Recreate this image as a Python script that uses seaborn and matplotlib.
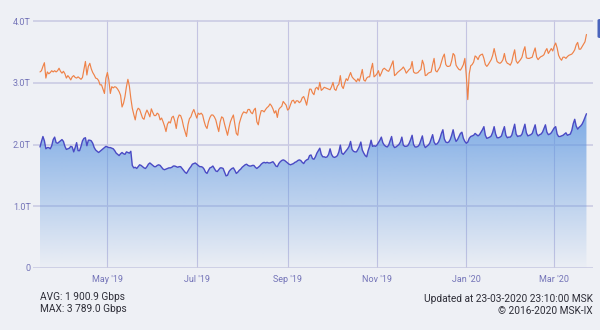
import numpy as np
import pandas as pd
import matplotlib
matplotlib.use("Agg")
import matplotlib.pyplot as plt
import matplotlib.dates as mdates
from matplotlib.patches import FancyBboxPatch
from matplotlib.ticker import FixedLocator, FixedFormatter
import seaborn as sns

# Daily traffic, Tbps, starting 2019-03-16
start_date = "2019-03-16"

avg_tbps = [
    1.96, 2.05, 2.13, 2.06, 1.93, 1.95, 1.95,
    1.93, 1.98, 2.08, 2.12, 2.03, 2.02, 2.04,
    2.06, 2.08, 2.05, 1.97, 1.92, 1.93, 1.94,
    1.97, 1.96, 1.88, 1.95, 2.03, 1.90, 1.90,
    1.97, 2.06, 2.10, 2.11, 1.98, 2.07, 2.07,
    2.06, 2.02, 1.95, 1.91, 1.89, 1.87, 1.89,
    1.91, 1.93, 1.95, 1.97, 1.96, 1.95, 1.95,
    1.94, 1.93, 1.90, 1.86, 1.84, 1.82, 1.85,
    1.87, 1.85, 1.84, 1.88, 1.87, 1.86, 1.89,
    1.66, 1.62, 1.63, 1.61, 1.64, 1.67, 1.66,
    1.64, 1.62, 1.61, 1.64, 1.68, 1.70, 1.68,
    1.66, 1.64, 1.64, 1.66, 1.67, 1.66, 1.63,
    1.60, 1.59, 1.60, 1.61, 1.62, 1.62, 1.63,
    1.65, 1.65, 1.64, 1.63, 1.64, 1.64, 1.61,
    1.58, 1.55, 1.53, 1.57, 1.61, 1.64, 1.68,
    1.69, 1.70, 1.68, 1.66, 1.64, 1.64, 1.63,
    1.60, 1.55, 1.53, 1.58, 1.62, 1.63, 1.65,
    1.61, 1.57, 1.56, 1.59, 1.62, 1.62, 1.61,
    1.55, 1.49, 1.50, 1.56, 1.59, 1.61, 1.62,
    1.58, 1.53, 1.55, 1.58, 1.60, 1.63, 1.65,
    1.67, 1.68, 1.66, 1.65, 1.65, 1.66, 1.66,
    1.63, 1.61, 1.63, 1.65, 1.68, 1.70, 1.71,
    1.70, 1.71, 1.70, 1.70, 1.71, 1.72, 1.69,
    1.65, 1.64, 1.69, 1.72, 1.74, 1.75, 1.74,
    1.72, 1.70, 1.68, 1.67, 1.68, 1.69, 1.71,
    1.72, 1.74, 1.75, 1.74, 1.71, 1.69, 1.73,
    1.75, 1.76, 1.82, 1.83, 1.77, 1.76, 1.80,
    1.86, 1.90, 1.94, 1.84, 1.80, 1.80, 1.79,
    1.80, 1.84, 1.93, 1.84, 1.80, 1.79, 1.80,
    1.82, 1.88, 1.99, 1.86, 1.84, 1.87, 1.90,
    1.93, 1.97, 2.05, 1.92, 1.89, 1.88, 1.88,
    1.92, 1.97, 2.04, 1.91, 1.86, 1.82, 1.80,
    1.90, 1.97, 2.07, 1.97, 1.98, 1.97, 1.99,
    2.03, 2.07, 2.12, 2.03, 1.99, 1.97, 1.96,
    1.99, 2.06, 2.13, 1.99, 1.95, 1.96, 1.98,
    2.00, 2.04, 2.12, 1.99, 1.97, 1.97, 1.98,
    2.02, 2.08, 2.15, 2.00, 1.96, 1.96, 1.97,
    2.00, 2.07, 2.14, 2.00, 1.95, 1.97, 1.99,
    2.02, 2.09, 2.16, 2.04, 2.00, 2.01, 2.04,
    2.10, 2.18, 2.24, 2.09, 2.04, 2.03, 2.04,
    2.08, 2.15, 2.24, 2.12, 2.05, 2.08, 2.13,
    2.18, 2.20, 2.10, 2.05, 2.02, 2.04, 2.10,
    2.13, 2.14, 2.15, 2.18, 2.16, 2.14, 2.16,
    2.20, 2.24, 2.29, 2.15, 2.10, 2.11, 2.12,
    2.14, 2.20, 2.29, 2.17, 2.11, 2.11, 2.12,
    2.14, 2.22, 2.29, 2.15, 2.11, 2.12, 2.12,
    2.15, 2.24, 2.33, 2.17, 2.13, 2.14, 2.14,
    2.17, 2.25, 2.33, 2.19, 2.14, 2.15, 2.16,
    2.18, 2.25, 2.32, 2.18, 2.14, 2.16, 2.17,
    2.20, 2.26, 2.32, 2.20, 2.16, 2.17, 2.19,
    2.23, 2.27, 2.29, 2.17, 2.13, 2.13, 2.14,
    2.15, 2.17, 2.19, 2.15, 2.16, 2.17, 2.23,
    2.34, 2.41, 2.30, 2.25, 2.28, 2.30, 2.33,
    2.38, 2.44, 2.50,
]

max_tbps = [
    3.18, 3.20, 3.27, 3.33, 3.08, 3.18, 3.15,
    3.17, 3.20, 3.18, 3.20, 3.18, 3.20, 3.24,
    3.19, 3.16, 3.19, 3.15, 3.08, 3.12, 3.09,
    3.05, 3.10, 3.12, 3.09, 3.08, 3.10, 3.08,
    3.06, 3.09, 3.22, 3.35, 3.13, 3.27, 3.32,
    3.23, 3.17, 3.13, 3.08, 3.07, 3.04, 2.97,
    2.97, 2.90, 2.83, 3.08, 3.17, 3.05, 2.83,
    2.94, 2.92, 2.94, 2.93, 2.90, 2.86, 2.80,
    2.61, 2.67, 2.78, 2.94, 3.06, 2.95, 2.75,
    2.59, 2.49, 2.40, 2.54, 2.59, 2.57, 2.50,
    2.43, 2.41, 2.50, 2.56, 2.51, 2.45, 2.58,
    2.52, 2.47, 2.47, 2.51, 2.49, 2.40, 2.43,
    2.37, 2.30, 2.21, 2.33, 2.37, 2.35, 2.44,
    2.46, 2.38, 2.26, 2.42, 2.48, 2.47, 2.40,
    2.29, 2.21, 2.13, 2.32, 2.42, 2.45, 2.52,
    2.57, 2.50, 2.43, 2.51, 2.49, 2.51, 2.48,
    2.38, 2.30, 2.26, 2.37, 2.44, 2.48, 2.48,
    2.45, 2.40, 2.30, 2.21, 2.37, 2.45, 2.43,
    2.33, 2.24, 2.15, 2.27, 2.37, 2.43, 2.48,
    2.33, 2.18, 2.15, 2.34, 2.42, 2.49, 2.53,
    2.52, 2.51, 2.57, 2.57, 2.52, 2.50, 2.56,
    2.59, 2.37, 2.32, 2.46, 2.55, 2.55, 2.53,
    2.57, 2.60, 2.62, 2.66, 2.63, 2.58, 2.51,
    2.55, 2.44, 2.57, 2.60, 2.62, 2.70, 2.67,
    2.64, 2.56, 2.58, 2.65, 2.71, 2.72, 2.67,
    2.71, 2.71, 2.68, 2.70, 2.76, 2.78, 2.72,
    2.64, 2.77, 2.90, 2.90, 2.84, 2.81, 2.91,
    2.93, 2.89, 3.01, 2.88, 2.90, 2.93, 2.92,
    2.91, 2.90, 2.89, 2.94, 3.01, 2.90, 2.88,
    2.95, 2.98, 3.12, 2.95, 2.91, 3.00, 3.07,
    3.04, 3.11, 3.17, 3.10, 3.07, 3.05, 3.02,
    3.07, 3.03, 3.12, 3.22, 3.05, 3.03, 3.08,
    3.10, 3.10, 3.22, 3.32, 3.10, 3.12, 3.15,
    3.20, 3.11, 3.16, 3.22, 3.24, 3.22, 3.20,
    3.19, 3.24, 3.30, 3.36, 3.12, 3.14, 3.17,
    3.19, 3.21, 3.23, 3.26, 3.22, 3.16, 3.19,
    3.22, 3.24, 3.35, 3.18, 3.16, 3.16, 3.17,
    3.20, 3.22, 3.37, 3.30, 3.12, 3.13, 3.16,
    3.17, 3.18, 3.30, 3.40, 3.20, 3.18, 3.22,
    3.26, 3.34, 3.42, 3.47, 3.30, 3.27, 3.27,
    3.28, 3.36, 3.48, 3.45, 3.29, 3.25, 3.22,
    3.21, 3.25, 3.30, 3.40, 3.12, 2.73, 3.15,
    3.28, 3.30, 3.34, 3.44, 3.42, 3.38, 3.44,
    3.46, 3.47, 3.40, 3.30, 3.27, 3.30, 3.34,
    3.38, 3.45, 3.56, 3.45, 3.35, 3.33, 3.32,
    3.34, 3.38, 3.48, 3.36, 3.32, 3.31, 3.29,
    3.34, 3.45, 3.54, 3.36, 3.32, 3.35, 3.38,
    3.42, 3.52, 3.59, 3.41, 3.40, 3.40, 3.41,
    3.42, 3.50, 3.57, 3.42, 3.38, 3.41, 3.43,
    3.44, 3.46, 3.52, 3.56, 3.48, 3.52, 3.56,
    3.52, 3.60, 3.65, 3.57, 3.45, 3.40, 3.37,
    3.42, 3.42, 3.40, 3.43, 3.45, 3.46, 3.47,
    3.50, 3.54, 3.62, 3.66, 3.55, 3.55, 3.59,
    3.63, 3.67, 3.789,
]

y_ticks = [0, 1, 2, 3, 4]
y_tick_labels = ["0", "1.0T", "2.0T", "3.0T", "4.0T"]
avg_label = "AVG: 1 900.9 Gbps"
max_label = "MAX: 3 789.0 Gbps"
updated_label = "Updated at 23-03-2020 23:10:00 MSK"
copyright_label = "\u00a9 2016-2020 MSK-IX"

dates = pd.date_range(start_date, periods=len(avg_tbps), freq="D")
df = pd.DataFrame({"date": dates, "avg": avg_tbps, "max": max_tbps})

sns.set_theme(style="white")
plt.rcParams["font.family"] = ["Roboto", "DejaVu Sans"]

BG = "#eef0f5"
GRID = "#cbcbe3"
TICK = "#7474b8"
AVG_LINE = "#4a4ac4"
MAX_LINE = "#ee8248"

W, H = 600, 330
fig = plt.figure(figsize=(W / 100, H / 100), dpi=100, facecolor=BG)
ax = fig.add_axes([33 / W, 1 - 268 / H, 560 / W, 248 / H])
ax.set_facecolor(BG)

px_per_day = 1.465
x_left = dates[0] - pd.Timedelta(days=7 / px_per_day)
x_right = dates[0] + pd.Timedelta(days=553 / px_per_day)
y_bottom = -0.5 / 61.5
y_top = 247.5 / 61.5

# Area under the average series, shaded with a vertical fade
band = ax.fill_between(df["date"], 0, df["avg"], facecolor="none", edgecolor="none")
levels = np.linspace(0, 2.6, 256)[:, None]
rgba = np.zeros((256, 1, 4))
rgba[..., :3] = np.array([88, 148, 224]) / 255
rgba[..., 3] = np.clip(0.29 * levels + 0.02, 0, 1)
img = ax.imshow(
    rgba,
    extent=[mdates.date2num(x_left), mdates.date2num(x_right), 0, 2.6],
    origin="lower", aspect="auto", zorder=1, interpolation="bilinear",
)
img.set_clip_path(band.get_paths()[0], transform=ax.transData)

sns.lineplot(data=df, x="date", y="avg", color=AVG_LINE, linewidth=1.0,
             ax=ax, legend=False, zorder=3)
sns.lineplot(data=df, x="date", y="max", color=MAX_LINE, linewidth=0.85,
             ax=ax, legend=False, zorder=3)

ax.set_xlim(x_left, x_right)
ax.set_ylim(y_bottom, y_top)
ax.set_aspect("auto")

ax.yaxis.set_major_locator(FixedLocator(y_ticks))
ax.yaxis.set_major_formatter(FixedFormatter(y_tick_labels))
ax.xaxis.set_major_locator(mdates.MonthLocator(bymonth=[1, 3, 5, 7, 9, 11]))
ax.xaxis.set_major_formatter(mdates.DateFormatter("%b '%y"))

ax.grid(axis="y", color=GRID, linewidth=1.2, zorder=0)
ax.grid(axis="x", color="#c4c4e2", linewidth=0.8, zorder=0)
ax.set_axisbelow(True)
for s in ax.spines.values():
    s.set_visible(False)
ax.tick_params(axis="both", length=0, labelsize=6.5, labelcolor=TICK)
ax.tick_params(axis="x", pad=5)
ax.tick_params(axis="y", pad=1.5)
ax.set_xlabel("")
ax.set_ylabel("")

# Summary captions
txt = dict(fontsize=7.3, color="#2e2e38", va="center")
fig.text(40 / W, 1 - 296.5 / H, avg_label, ha="left", **txt)
fig.text(40 / W, 1 - 309.5 / H, max_label, ha="left", **txt)
fig.text(592.5 / W, 1 - 299.5 / H, updated_label, ha="right", **txt)
fig.text(592.5 / W, 1 - 311.5 / H, copyright_label, ha="right", **txt)

# Edge tab at the top right
fig.patches.append(FancyBboxPatch(
    (597.5 / W, 1 - 38 / H), 6 / W, 19 / H,
    boxstyle="round,pad=0,rounding_size=0.004",
    transform=fig.transFigure, facecolor="#4a64bc", edgecolor="none",
))

fig.savefig("out.png", dpi=100, facecolor=BG)
